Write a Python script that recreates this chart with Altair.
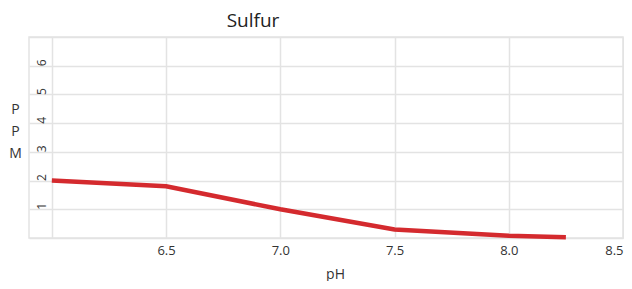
import altair as alt
import pandas as pd

ph = [6.0, 6.5, 7.0, 7.5, 8.0, 8.25]
ppm = [2.0, 1.8, 1.0, 0.3, 0.08, 0.03]

df = pd.DataFrame({"pH": ph, "PPM": ppm})

FONT = "Open Sans"

chart = alt.Chart(df).mark_line(color="#d42a2e", strokeWidth=4.5, strokeCap="butt").encode(
    x=alt.X("pH:Q",
            scale=alt.Scale(domain=[5.9, 8.5], nice=False, zero=False),
            axis=alt.Axis(values=[6.0, 6.5, 7.0, 7.5, 8.0, 8.5], format=".1f",
                          labelExpr="datum.value == 6 ? '' : datum.label",
                          domain=False, ticks=False, labelPadding=6,
                          labelFontSize=13, labelColor="#333", labelFont=FONT,
                          title="pH", titleFontSize=14, titleFontWeight="normal",
                          titleColor="#333", titleFont=FONT, titlePadding=10,
                          titleX=306,
                          gridColor="#e3e3e3", gridWidth=1.5)),
    y=alt.Y("PPM:Q",
            scale=alt.Scale(domain=[0, 7], nice=False),
            axis=alt.Axis(values=[0, 1, 2, 3, 4, 5, 6, 7],
                          labelExpr="(datum.value == 0 || datum.value == 7) ? '' : datum.label",
                          domain=False, ticks=False, labelAngle=-90,
                          labelAlign="left", labelBaseline="middle", labelPadding=-12,
                          labelFontSize=12, labelColor="#333", labelFont=FONT,
                          title=["P", "P", "M"], titleAngle=0, titleAlign="center",
                          titleBaseline="top", titleX=-14, titleY=65, titleLineHeight=22,
                          titleFontSize=14, titleFontWeight="normal", titleColor="#333",
                          titleFont=FONT,
                          gridColor="#e3e3e3", gridWidth=1.5)),
).properties(
    width=594, height=201,
    title=alt.TitleParams("Sulfur", fontSize=19, fontWeight="normal", color="#222",
                          font=FONT, anchor="middle", dx=-73, offset=6),
    autosize=alt.AutoSizeParams(type="none"),
    padding={"left": 21, "top": 29, "right": 1, "bottom": 43},
).configure_view(stroke="#e3e3e3", strokeWidth=1.5)

chart.save("out.html", embed_options={"renderer": "svg", "actions": False})
